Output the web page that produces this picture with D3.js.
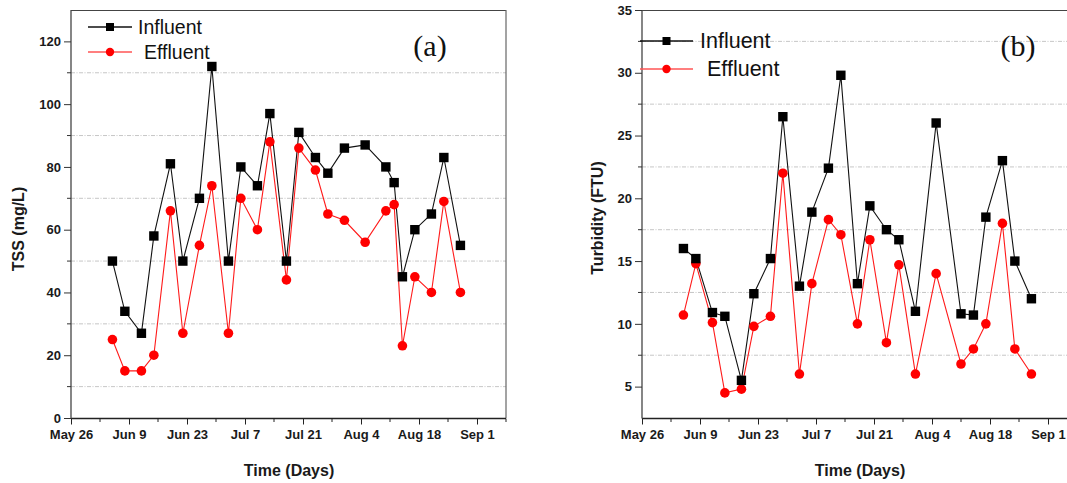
<!DOCTYPE html>
<html>
<head>
<meta charset="utf-8">
<script src="https://cdn.jsdelivr.net/npm/d3@7"></script>
<style>
  html, body { margin: 0; padding: 0; background: #fff; }
  svg { display: block; }
</style>
</head>
<body>
<svg id="chart" width="1067" height="483"></svg>
<script>
// ---------------- DATA ----------------
const tssDates = ["2019-06-05","2019-06-08","2019-06-12","2019-06-15","2019-06-19","2019-06-22","2019-06-26","2019-06-29",
  "2019-07-03","2019-07-06","2019-07-10","2019-07-13","2019-07-17","2019-07-20","2019-07-24","2019-07-27","2019-07-31",
  "2019-08-05","2019-08-10","2019-08-12","2019-08-14","2019-08-17","2019-08-21","2019-08-24","2019-08-28"];
const tssInfluent = [50,34,27,58,81,50,70,112,50,80,74,97,50,91,83,78,86,87,80,75,45,60,65,83,55];
const tssEffluent = [25,15,15,20,66,27,55,74,27,70,60,88,44,86,79,65,63,56,66,68,23,45,40,69,40];

const turbDates = ["2019-06-05","2019-06-08","2019-06-12","2019-06-15","2019-06-19","2019-06-22","2019-06-26","2019-06-29",
  "2019-07-03","2019-07-06","2019-07-10","2019-07-13","2019-07-17","2019-07-20","2019-07-24","2019-07-27","2019-07-31",
  "2019-08-05","2019-08-11","2019-08-14","2019-08-17","2019-08-21","2019-08-24","2019-08-28"];
const turbInfluent = [16,15.2,10.9,10.6,5.5,12.4,15.2,26.5,13,18.9,22.4,29.8,13.2,19.4,17.5,16.7,11,26,10.8,10.7,18.5,23,15,12];
const turbEffluent = [10.7,14.8,10.1,4.5,4.8,9.8,10.6,22,6,13.2,18.3,17.1,10,16.7,8.5,14.7,6,14,6.8,8,10,18,8,6];

const xTickLabels = ["May 26","Jun 9","Jun 23","Jul 7","Jul 21","Aug 4","Aug 18","Sep 1"];
const tssYTicks = [0,20,40,60,80,100,120];
const turbYTicks = [5,10,15,20,25,30,35];
const seriesNames = ["Influent","Effluent"];

// ---------------- DRAW ----------------
const parse = d3.timeParse("%Y-%m-%d");
const svg = d3.select("#chart");
const FONT = "'Liberation Sans', Arial, sans-serif";
const xStart = parse("2019-05-26"), xEnd = parse("2019-09-08");

function panel(opt) {
  const x = d3.scaleTime().domain([xStart, xEnd]).range([opt.left, opt.left + 435]);
  const y = d3.scaleLinear().domain(opt.yDomain).range([418, 10]);
  const g = svg.append("g");
  const clipId = "clip" + opt.id;
  svg.append("clipPath").attr("id", clipId).append("rect")
    .attr("x", opt.left).attr("y", 0).attr("width", 1067 - opt.left).attr("height", 483);

  // gridlines (minor positions)
  g.append("g").selectAll("line").data(opt.grid).join("line")
    .attr("x1", opt.left).attr("x2", Math.min(opt.left + 435, 1067))
    .attr("y1", d => y(d)).attr("y2", d => y(d))
    .attr("stroke", "#b8b8b8").attr("stroke-width", 0.8).attr("stroke-dasharray", "4,1.5,1,1.5");

  // frame top & right
  g.append("line").attr("x1", opt.left).attr("x2", opt.left + 435).attr("y1", 10.5).attr("y2", 10.5)
    .attr("stroke", "#444").attr("stroke-width", 1);
  g.append("line").attr("x1", opt.left + 435).attr("x2", opt.left + 435).attr("y1", 10).attr("y2", 418)
    .attr("stroke", "#666").attr("stroke-width", 1.2);

  // x axis
  const majorDates = xTickLabels.map((t, i) => d3.timeDay.offset(xStart, 14 * i));
  const minorDates = xTickLabels.map((t, i) => d3.timeDay.offset(xStart, 14 * i + 7));
  const xAxis = d3.axisBottom(x).tickValues(majorDates).tickFormat((d, i) => xTickLabels[i]).tickSize(6).tickPadding(5);
  const xg = g.append("g").attr("transform", "translate(0,418.5)").call(xAxis);
  xg.select(".domain").attr("stroke", "#222").attr("stroke-width", 1.3).attr("d", `M${opt.left},0H${opt.left + 435}`);
  xg.selectAll("text").attr("font-family", FONT).attr("font-weight", "bold").attr("font-size", 13).attr("fill", "#1a1a1a");
  xg.selectAll(".tick line").attr("stroke", "#222");
  g.append("g").attr("transform", "translate(0,418.5)").selectAll("line").data(minorDates).join("line")
    .attr("x1", d => x(d)).attr("x2", d => x(d)).attr("y1", 0).attr("y2", 3.5).attr("stroke", "#222");

  // y axis
  const yAxis = d3.axisLeft(y).tickValues(opt.yTicks).tickSize(7).tickPadding(3);
  const yg = g.append("g").attr("transform", `translate(${opt.left},0)`).call(yAxis);
  yg.select(".domain").attr("stroke", "#444").attr("stroke-width", 1.3).attr("d", "M0,10V418.5");
  yg.selectAll("text").attr("font-family", FONT).attr("font-weight", "bold").attr("font-size", 13).attr("fill", "#1a1a1a");
  yg.selectAll(".tick line").attr("stroke", "#333");
  g.append("g").attr("transform", `translate(${opt.left},0)`).selectAll("line").data(opt.grid).join("line")
    .attr("x1", -4).attr("x2", 0).attr("y1", d => y(d)).attr("y2", d => y(d)).attr("stroke", "#333");

  // titles
  g.append("text").attr("x", opt.left + 218).attr("y", 476).attr("text-anchor", "middle")
    .attr("font-family", FONT).attr("font-weight", "bold").attr("font-size", 16).attr("fill", "#1a1a1a").text("Time (Days)");
  g.append("text").attr("transform", `translate(${opt.yTitleX},${opt.yTitleY}) rotate(-90)`).attr("text-anchor", "middle")
    .attr("font-family", FONT).attr("font-weight", "bold").attr("font-size", 16).attr("fill", "#1a1a1a").text(opt.yTitle);

  // panel label
  g.append("text").attr("x", opt.labelX).attr("y", 56).attr("text-anchor", "middle")
    .attr("font-family", "'Liberation Serif', 'Times New Roman', serif").attr("font-size", 30).attr("fill", "#111").text(opt.label);

  // series
  const dates = opt.dates.map(parse);
  const plot = g.append("g").attr("clip-path", `url(#${clipId})`);
  const line = d3.line().x(d => x(d[0])).y(d => y(d[1]));
  const inf = dates.map((d, i) => [d, opt.inf[i]]);
  const eff = dates.map((d, i) => [d, opt.eff[i]]);
  plot.append("path").datum(eff).attr("d", line).attr("fill", "none").attr("stroke", "#ff1a1a").attr("stroke-width", 1.1);
  plot.append("path").datum(inf).attr("d", line).attr("fill", "none").attr("stroke", "#111").attr("stroke-width", 1.1);
  plot.selectAll(".ec").data(eff).join("circle").attr("cx", d => x(d[0])).attr("cy", d => y(d[1])).attr("r", 4.8).attr("fill", "#ff0000");
  plot.selectAll(".ir").data(inf).join("rect").attr("x", d => x(d[0]) - 4.7).attr("y", d => y(d[1]) - 4.7)
    .attr("width", 9.4).attr("height", 9.4).attr("fill", "#000");

  // legend
  const lg = g.append("g");
  const L = opt.legend;
  seriesNames.forEach((name, i) => {
    const yy = L.y[i];
    const col = i === 0 ? "#111" : "#ff5555";
    lg.append("line").attr("x1", L.x1).attr("x2", L.x2).attr("y1", yy).attr("y2", yy).attr("stroke", col).attr("stroke-width", 1.3);
    const cx = (L.x1 + L.x2) / 2;
    if (i === 0) lg.append("rect").attr("x", cx - 4).attr("y", yy - 4).attr("width", 8).attr("height", 8).attr("fill", "#000");
    else lg.append("circle").attr("cx", cx).attr("cy", yy).attr("r", 4.2).attr("fill", "#ff0000");
    lg.append("text").attr("x", L.tx[i]).attr("y", yy + 7).attr("font-family", FONT).attr("font-size", L.fs)
      .attr("fill", "#111").text(name);
  });
}

panel({
  id: "a", left: 71, yDomain: [0, 130], yTicks: tssYTicks, grid: [10, 30, 50, 70, 90, 110],
  dates: tssDates, inf: tssInfluent, eff: tssEffluent,
  yTitle: "TSS (mg/L)", yTitleX: 24, yTitleY: 229, label: "(a)", labelX: 430,
  legend: { x1: 88, x2: 132, y: [27, 52], tx: [138, 144], fs: 19.5 }
});
panel({
  id: "b", left: 642, yDomain: [2.5, 35], yTicks: turbYTicks, grid: [7.5, 12.5, 17.5, 22.5, 27.5, 32.5],
  dates: turbDates, inf: turbInfluent, eff: turbEffluent,
  yTitle: "Turbidity (FTU)", yTitleX: 603, yTitleY: 218, label: "(b)", labelX: 1018,
  legend: { x1: 640, x2: 693, y: [41, 69], tx: [700, 707], fs: 21.5 }
});
</script>
</body>
</html>
